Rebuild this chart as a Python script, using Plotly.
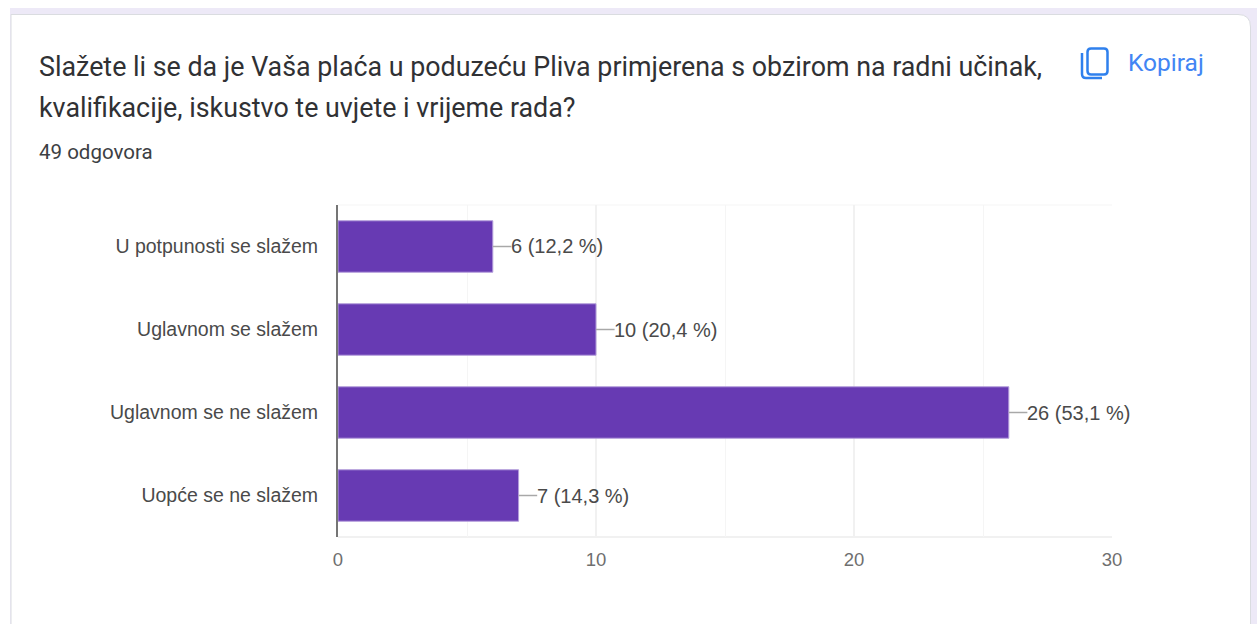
import plotly.graph_objects as go

W, H = 1257, 624
categories = ["U potpunosti se slažem", "Uglavnom se slažem", "Uglavnom se ne slažem", "Uopće se ne slažem"]
values = [6, 10, 26, 7]
percents = ["12,2", "20,4", "53,1", "14,3"]
x_ticks = [0, 10, 20, 30]
title_lines = ["Slažete li se da je Vaša plaća u poduzeću Pliva primjerena s obzirom na radni učinak,",
               "kvalifikacije, iskustvo te uvjete i vrijeme rada?"]
subtitle = "49 odgovora"
copy_label = "Kopiraj"

PX = lambda x: x / W
PY = lambda y: 1 - y / H

def path(cmds):
    out = []
    for c in cmds:
        if isinstance(c, str):
            out.append(c)
        else:
            out.append(f"{PX(c[0]):.6f},{PY(c[1]):.6f}")
    return " ".join(out)

fig = go.Figure()
fig.add_trace(go.Bar(
    y=categories, x=values, orientation="h", width=0.62,
    marker=dict(color="#673AB3", line=dict(color="#B39DDB", width=1)),
    error_x=dict(type="data", symmetric=False, array=[0.72] * len(values), arrayminus=[0] * len(values),
                 color="#A8A8A8", thickness=1.5, width=0),
    hoverinfo="skip",
))

annotations = []
for c, v, p in zip(categories, values, percents):
    annotations.append(dict(x=v, y=c, xref="x", yref="y", text=f"{v} ({p} %)", showarrow=False,
                            xanchor="left", yanchor="middle", xshift=16,
                            font=dict(family="Liberation Sans", size=20, color="#4a4a4a")))

for i, line in enumerate(title_lines):
    annotations.append(dict(x=PX(37), y=PY(67 + i * 41), xref="paper", yref="paper", text=line, showarrow=False,
                            xanchor="left", yanchor="middle",
                            font=dict(family="Roboto", size=26.83, color="#303134")))
annotations.append(dict(x=PX(37), y=PY(152), xref="paper", yref="paper", text=subtitle, showarrow=False,
                        xanchor="left", yanchor="middle", font=dict(family="Roboto", size=20.5, color="#3c4043")))
annotations.append(dict(x=PX(1126), y=PY(63), xref="paper", yref="paper", text=copy_label, showarrow=False,
                        xanchor="left", yanchor="middle", font=dict(family="Roboto", size=24.5, color="#4285F4")))

shapes = [
    dict(type="rect", xref="paper", yref="paper", x0=PX(10), x1=1, y0=0, y1=PY(8),
         fillcolor="#EDE9F7", line=dict(width=0), layer="below"),
    dict(type="path", xref="paper", yref="paper", layer="below",
         path=path(["M", (11, 630), "L", (11, 14.5), "L", (1238, 14.5), "Q", (1250.5, 14.5), (1250.5, 27), "L", (1250.5, 630), "Z"]),
         fillcolor="#FFFFFF", line=dict(color="#DADCE0", width=1)),
    dict(type="path", xref="paper", yref="paper",
         path=path(["M", (1091, 48.5), "L", (1104, 48.5), "Q", (1107.5, 48.5), (1107.5, 52), "L", (1107.5, 71),
                    "Q", (1107.5, 74.5), (1104, 74.5), "L", (1091, 74.5), "Q", (1087.5, 74.5), (1087.5, 71),
                    "L", (1087.5, 52), "Q", (1087.5, 48.5), (1091, 48.5), "Z"]),
         line=dict(color="#2F80ED", width=2.5)),
    dict(type="path", xref="paper", yref="paper",
         path=path(["M", (1082, 53), "L", (1082, 74), "Q", (1082, 78), (1086, 78), "L", (1102, 78)]),
         line=dict(color="#2F80ED", width=2.5)),
    dict(type="line", xref="paper", yref="paper", x0=PX(338), x1=PX(1112), y0=PY(205), y1=PY(205),
         line=dict(color="#F5F5F5", width=1), layer="below"),
    dict(type="line", xref="paper", yref="paper", x0=PX(338), x1=PX(1112), y0=PY(537), y1=PY(537),
         line=dict(color="#F1F1F1", width=2), layer="below"),
]

fig.update_layout(
    width=W, height=H, autosize=False, margin=dict(l=0, r=0, t=0, b=0, autoexpand=False),
    paper_bgcolor="#FFFFFF", plot_bgcolor="rgba(0,0,0,0)", showlegend=False,
    annotations=annotations, shapes=shapes,
    xaxis=dict(domain=[PX(338), PX(1112)], range=[0, 30], tickvals=x_ticks, ticks="",
               showgrid=True, gridcolor="#F1F1F1", gridwidth=2,
               minor=dict(dtick=5, tick0=0, showgrid=True, gridcolor="#F5F5F5", gridwidth=1, ticks=""),
               zeroline=False, showline=False, ticklabelstandoff=9,
               tickfont=dict(family="Liberation Sans", size=18.5, color="#6f6f6f")),
    yaxis=dict(domain=[PY(537), PY(205)], autorange="reversed", categoryorder="array", categoryarray=categories,
               showgrid=False, zeroline=False, showline=True, linecolor="#757575", linewidth=2,
               ticks="", ticklabelstandoff=14,
               tickfont=dict(family="Liberation Sans", size=19.5, color="#4a4a4a")),
)

fig.write_html("out.html", config=dict(displayModeBar=False),
               post_script="document.body.style.margin='0';document.body.style.overflow='hidden';")
